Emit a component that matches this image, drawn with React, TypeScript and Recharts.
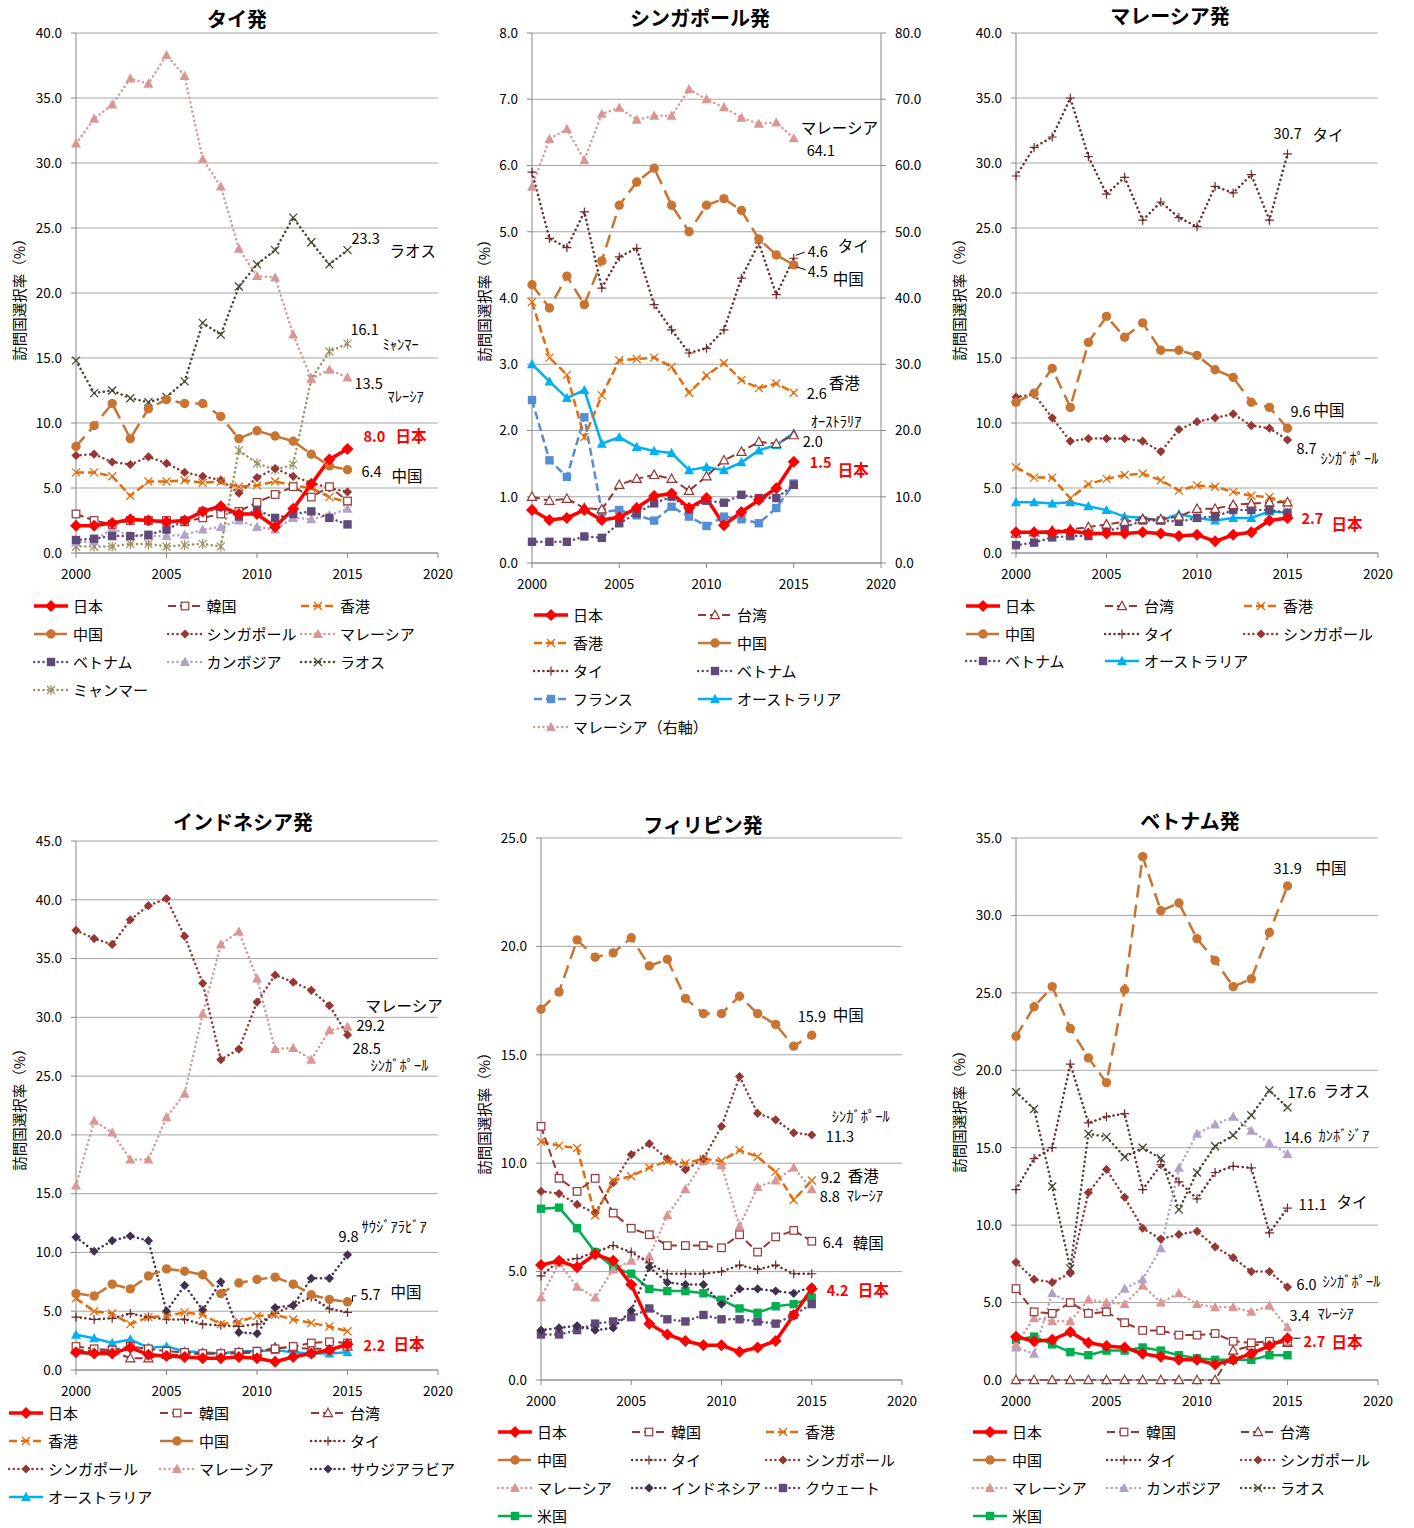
import React from 'react';
import { LineChart, Line, XAxis, YAxis, CartesianGrid } from 'recharts';

const FONT = '"Noto Sans CJK JP", "Noto Sans", sans-serif';
const YEARS = [2000, 2001, 2002, 2003, 2004, 2005, 2006, 2007, 2008, 2009, 2010, 2011, 2012, 2013, 2014, 2015];
const X_TICKS = [2000, 2005, 2010, 2015, 2020];

// タイ発
const thJapan = [2.1, 2.1, 2.3, 2.6, 2.5, 2.4, 2.5, 3.2, 3.6, 3.0, 3.0, 2.0, 3.4, 5.3, 7.2, 8.0];
const thKorea = [3.0, 2.5, 2.2, 2.5, 2.5, 2.5, 2.4, 2.7, 3.0, 3.2, 3.9, 4.5, 5.1, 4.3, 5.1, 4.0];
const thHongKong = [6.2, 6.2, 5.9, 4.4, 5.5, 5.5, 5.6, 5.4, 5.5, 5.1, 5.2, 5.5, 5.2, 5.0, 4.3, 3.9];
const thChina = [8.2, 9.8, 11.5, 8.8, 11.1, 11.8, 11.5, 11.5, 10.5, 8.8, 9.4, 9.0, 8.6, 7.6, 6.7, 6.4];
const thSingapore = [7.5, 7.6, 7.0, 6.8, 7.4, 6.9, 6.2, 5.9, 5.6, 4.6, 5.8, 6.5, 5.9, 5.4, 5.0, 4.7];
const thMalaysia = [31.5, 33.4, 34.5, 36.5, 36.1, 38.3, 36.7, 30.3, 28.2, 23.4, 21.3, 21.2, 16.8, 13.4, 14.1, 13.5];
const thVietnam = [1.0, 1.1, 1.3, 1.3, 1.4, 1.8, 2.5, 3.2, 3.4, 2.8, 3.3, 2.7, 3.0, 3.2, 2.7, 2.2];
const thCambodia = [0.8, 0.9, 1.9, 1.3, 1.3, 1.3, 1.4, 1.8, 2.0, 2.5, 2.0, 1.8, 2.7, 2.6, 2.9, 3.4];
const thLaos = [14.8, 12.3, 12.5, 11.9, 11.6, 12.0, 13.2, 17.7, 16.8, 20.5, 22.2, 23.3, 25.8, 23.9, 22.2, 23.3];
const thMyanmar = [0.5, 0.5, 0.5, 0.7, 0.7, 0.5, 0.6, 0.7, 0.5, 7.9, 6.9, 6.4, 6.8, 13.4, 15.5, 16.1];

// シンガポール発
const sgJapan = [0.8, 0.65, 0.68, 0.8, 0.65, 0.69, 0.83, 1.01, 1.05, 0.83, 0.98, 0.57, 0.77, 0.95, 1.13, 1.53];
const sgTaiwan = [1.0, 0.94, 0.97, 0.83, 0.81, 1.18, 1.27, 1.33, 1.27, 1.09, 1.31, 1.55, 1.68, 1.83, 1.8, 1.93];
const sgHongKong = [3.94, 3.1, 2.84, 1.9, 2.53, 3.06, 3.08, 3.1, 2.96, 2.57, 2.83, 3.02, 2.76, 2.64, 2.71, 2.57];
const sgChina = [4.2, 3.85, 4.33, 3.9, 4.56, 5.4, 5.75, 5.96, 5.4, 5.0, 5.4, 5.5, 5.32, 4.89, 4.65, 4.5];
const sgThailand = [5.9, 4.9, 4.76, 5.3, 4.15, 4.62, 4.75, 3.9, 3.52, 3.17, 3.24, 3.52, 4.3, 4.83, 4.05, 4.6];
const sgVietnam = [0.32, 0.32, 0.32, 0.4, 0.38, 0.6, 0.75, 0.9, 1.0, 0.81, 0.94, 0.91, 1.03, 0.98, 0.98, 1.18];
const sgFrance = [2.46, 1.55, 1.3, 2.2, 0.77, 0.8, 0.72, 0.64, 0.85, 0.7, 0.56, 0.7, 0.66, 0.6, 0.83, 1.2];
const sgAustralia = [3.0, 2.74, 2.49, 2.61, 1.8, 1.9, 1.75, 1.69, 1.66, 1.4, 1.45, 1.4, 1.52, 1.7, 1.78, 1.96];
const sgMalaysia = [56.8, 64.0, 65.5, 60.8, 67.8, 68.7, 66.9, 67.5, 67.5, 71.5, 70.0, 68.8, 67.2, 66.3, 66.5, 64.1];

// マレーシア発
const myJapan = [1.6, 1.6, 1.6, 1.7, 1.5, 1.5, 1.5, 1.6, 1.5, 1.3, 1.4, 0.9, 1.4, 1.6, 2.5, 2.7];
const myTaiwan = [1.5, 1.6, 1.7, 1.8, 2.0, 2.2, 2.4, 2.6, 2.6, 2.8, 3.4, 3.4, 3.7, 3.8, 3.9, 3.9];
const myHongKong = [6.6, 5.8, 5.8, 4.2, 5.3, 5.7, 6.0, 6.1, 5.6, 4.8, 5.2, 5.1, 4.7, 4.4, 4.3, 3.8];
const myChina = [11.6, 12.3, 14.2, 11.2, 16.2, 18.2, 16.6, 17.7, 15.6, 15.6, 15.2, 14.1, 13.5, 11.6, 11.2, 9.6];
const myThailand = [29.0, 31.2, 32.0, 35.0, 30.5, 27.6, 28.9, 25.6, 27.0, 25.8, 25.1, 28.2, 27.7, 29.1, 25.6, 30.7];
const mySingapore = [12.0, 12.2, 10.4, 8.6, 8.8, 8.8, 8.8, 8.6, 7.8, 9.5, 10.1, 10.4, 10.7, 9.8, 9.6, 8.7];
const myVietnam = [0.6, 0.8, 1.2, 1.3, 1.3, 1.7, 2.0, 2.5, 2.5, 2.4, 2.7, 2.8, 3.3, 3.3, 3.3, 3.1];
const myAustralia = [3.9, 3.9, 3.8, 3.9, 3.6, 3.3, 2.8, 2.7, 2.5, 3.0, 2.7, 2.5, 2.7, 2.7, 3.2, 3.1];

// インドネシア発
const idJapan = [1.5, 1.4, 1.4, 1.9, 1.3, 1.2, 1.1, 1.0, 1.0, 1.1, 1.0, 0.7, 1.1, 1.4, 1.7, 2.2];
const idKorea = [2.0, 1.8, 1.7, 2.0, 1.8, 1.6, 1.5, 1.4, 1.4, 1.5, 1.6, 1.8, 2.0, 2.3, 2.4, 2.3];
const idTaiwan = [1.7, 1.6, 1.6, 1.0, 1.0, 1.3, 1.3, 1.4, 1.4, 1.4, 1.5, 1.9, 1.9, 1.8, 1.8, 2.0];
const idHongKong = [6.1, 5.0, 4.8, 3.9, 4.5, 4.6, 4.9, 4.7, 3.9, 4.1, 4.6, 4.7, 4.3, 4.0, 3.7, 3.3];
const idChina = [6.5, 6.3, 7.3, 6.9, 8.0, 8.6, 8.4, 8.1, 6.5, 7.4, 7.7, 7.9, 7.3, 6.4, 6.0, 5.8];
const idThailand = [4.5, 4.3, 4.4, 4.8, 4.5, 4.3, 4.3, 3.9, 3.8, 3.7, 3.9, 4.8, 5.5, 6.2, 5.2, 4.9];
const idSingapore = [37.4, 36.7, 36.2, 38.3, 39.5, 40.1, 36.9, 32.9, 26.4, 27.3, 31.3, 33.6, 33.0, 32.3, 31.0, 28.5];
const idMalaysia = [15.7, 21.2, 20.2, 17.9, 17.9, 21.5, 23.5, 30.3, 36.2, 37.3, 33.3, 27.3, 27.4, 26.4, 28.9, 29.2];
const idSaudi = [11.3, 10.1, 11.0, 11.4, 11.0, 5.0, 7.2, 5.1, 7.5, 3.2, 3.1, 5.3, 5.5, 7.8, 7.8, 9.8];
const idAustralia = [3.0, 2.7, 2.3, 2.6, 1.9, 2.0, 1.6, 1.5, 1.4, 1.6, 1.6, 1.7, 1.5, 1.4, 1.4, 1.5];

// フィリピン発
const phJapan = [5.3, 5.5, 5.2, 5.8, 5.5, 4.4, 2.6, 2.1, 1.8, 1.6, 1.6, 1.3, 1.5, 1.8, 3.0, 4.2];
const phKorea = [11.7, 9.3, 8.7, 9.3, 7.7, 7.0, 6.7, 6.2, 6.2, 6.2, 6.1, 6.7, 5.9, 6.6, 6.9, 6.4];
const phHongKong = [11.0, 10.8, 10.7, 7.6, 9.2, 9.4, 9.8, 10.1, 10.0, 10.2, 10.1, 10.6, 10.3, 9.6, 8.3, 9.2];
const phChina = [17.1, 17.9, 20.3, 19.5, 19.7, 20.4, 19.1, 19.4, 17.6, 16.9, 16.9, 17.7, 16.9, 16.4, 15.4, 15.9];
const phThailand = [4.8, 5.5, 5.6, 5.9, 6.2, 5.9, 5.4, 4.9, 4.9, 4.9, 5.0, 5.3, 5.1, 5.3, 4.9, 4.9];
const phSingapore = [8.7, 8.6, 8.1, 7.7, 9.1, 10.4, 10.9, 10.2, 9.7, 10.2, 11.7, 14.0, 12.3, 12.0, 11.4, 11.3];
const phMalaysia = [3.8, 5.4, 4.3, 3.8, 5.1, 5.5, 5.7, 7.6, 8.8, 10.1, 9.9, 7.1, 8.9, 9.2, 9.8, 8.8];
const phIndonesia = [2.3, 2.4, 2.5, 2.3, 2.4, 3.2, 5.2, 4.5, 4.4, 4.4, 3.5, 4.2, 4.2, 4.1, 4.0, 4.3];
const phKuwait = [2.1, 2.1, 2.3, 2.6, 2.7, 2.9, 3.3, 2.8, 2.7, 3.0, 2.8, 2.8, 2.7, 2.6, 3.0, 3.5];
const phUS = [7.9, 7.95, 7.0, 5.9, 5.2, 4.9, 4.2, 4.1, 4.1, 4.0, 3.7, 3.3, 3.1, 3.4, 3.5, 3.8];

// ベトナム発
const vnJapan = [2.8, 2.5, 2.6, 3.1, 2.4, 2.2, 2.1, 1.7, 1.5, 1.3, 1.3, 1.0, 1.3, 1.7, 2.2, 2.7];
const vnKorea = [5.9, 4.4, 4.3, 5.0, 4.3, 4.4, 3.7, 3.2, 3.2, 2.9, 2.9, 3.0, 2.5, 2.4, 2.5, 2.5];
const vnTaiwan = [0, 0, 0, 0, 0, 0, 0, 0, 0, 0, 0, 0, 1.9, 2.2, 2.4, 2.4];
const vnChina = [22.2, 24.1, 25.4, 22.7, 20.8, 19.2, 25.2, 33.8, 30.3, 30.8, 28.5, 27.1, 25.4, 25.9, 28.9, 31.9];
const vnThailand = [12.3, 14.3, 15.0, 20.4, 16.6, 17.0, 17.2, 12.3, 13.9, 12.8, 11.7, 13.4, 13.8, 13.7, 9.5, 11.1];
const vnSingapore = [7.6, 6.5, 6.3, 6.9, 12.1, 13.6, 11.8, 9.8, 9.1, 9.4, 9.6, 8.6, 7.9, 7.0, 7.0, 6.0];
const vnMalaysia = [2.3, 4.0, 3.8, 3.8, 5.2, 5.0, 4.9, 6.1, 5.0, 5.6, 4.9, 4.7, 4.7, 4.4, 4.8, 3.4];
const vnCambodia = [2.1, 1.7, 5.6, 5.0, 4.4, 4.7, 5.9, 6.5, 8.5, 13.7, 15.9, 16.5, 17.0, 16.1, 15.3, 14.6];
const vnLaos = [18.6, 17.5, 12.5, 7.2, 15.9, 15.7, 14.4, 15.0, 14.3, 11.0, 13.4, 15.1, 15.8, 17.1, 18.7, 17.6];
const vnUS = [2.6, 2.8, 2.3, 1.8, 1.6, 1.9, 1.9, 2.1, 1.9, 1.6, 1.4, 1.3, 1.3, 1.3, 1.6, 1.6];

type Mark = 'diamondL' | 'diamond' | 'square' | 'squareO' | 'tri' | 'triO' | 'circle' | 'x' | 'plus' | 'star';
type Stroke = 'solid' | 'dash' | 'dot' | 'long';
interface Style { color: string; stroke: Stroke; mark: Mark; width: number }
interface Series extends Style { name: string; data: number[]; right?: boolean }
interface Note {
  name: string; value: string; label: string;
  vdx: number; vdy: number; ldx: number; ldy: number;
  red?: boolean; small?: boolean; leader?: number[];
}
interface Panel {
  title: string; titleX: number; titleY: number; labelX: number; labelY: number;
  box: { l: number; t: number; r: number; b: number };
  yMax: number; yStep: number; rightMax?: number;
  legend: { x: number; y: number; colW: number; rowH: number; cols: number };
  series: Series[]; notes: Note[];
}

const ST: Record<string, Style> = {
  jp: { color: '#FF0000', stroke: 'solid', mark: 'diamondL', width: 3.5 },
  kr: { color: '#953735', stroke: 'dash', mark: 'squareO', width: 2 },
  tw: { color: '#953735', stroke: 'dash', mark: 'triO', width: 2 },
  hk: { color: '#E46C0A', stroke: 'dash', mark: 'x', width: 2.5 },
  cn: { color: '#C87533', stroke: 'long', mark: 'circle', width: 2.5 },
  sg: { color: '#953735', stroke: 'dot', mark: 'diamond', width: 2.5 },
  my: { color: '#DA9694', stroke: 'dot', mark: 'tri', width: 2.5 },
  th: { color: '#6E2B2B', stroke: 'dot', mark: 'plus', width: 2.5 },
  vn: { color: '#604A7B', stroke: 'dot', mark: 'square', width: 2.5 },
  kh: { color: '#B3A2C7', stroke: 'dot', mark: 'tri', width: 2.5 },
  la: { color: '#4A4530', stroke: 'dot', mark: 'x', width: 2.5 },
  mm: { color: '#9C9060', stroke: 'dot', mark: 'star', width: 2.5 },
  fr: { color: '#558ED5', stroke: 'dash', mark: 'square', width: 2.5 },
  au: { color: '#00B0F0', stroke: 'solid', mark: 'tri', width: 2.5 },
  sa: { color: '#403151', stroke: 'dot', mark: 'diamond', width: 2.5 },
  kw: { color: '#604A7B', stroke: 'dot', mark: 'square', width: 2.5 },
  us: { color: '#00B050', stroke: 'solid', mark: 'square', width: 2.5 },
};

const DASH: Record<Stroke, string | undefined> = {
  solid: undefined,
  dash: '8 4',
  dot: '0.1 4.6',
  long: '13 7',
};

const PANELS: Panel[] = [
  {
    title: 'タイ発', titleX: 237, titleY: 27, labelX: 18, labelY: 296,
    box: { l: 76, t: 33, r: 438, b: 553 }, yMax: 40, yStep: 5,
    legend: { x: 33, y: 606, colW: 133.5, rowH: 28, cols: 3 },
    series: [
      { name: '日本', data: thJapan, ...ST.jp },
      { name: '韓国', data: thKorea, ...ST.kr },
      { name: '香港', data: thHongKong, ...ST.hk },
      { name: '中国', data: thChina, ...ST.cn },
      { name: 'シンガポール', data: thSingapore, ...ST.sg },
      { name: 'マレーシア', data: thMalaysia, ...ST.my },
      { name: 'ベトナム', data: thVietnam, ...ST.vn },
      { name: 'カンボジア', data: thCambodia, ...ST.kh },
      { name: 'ラオス', data: thLaos, ...ST.la },
      { name: 'ミャンマー', data: thMyanmar, ...ST.mm },
    ],
    notes: [
      { name: 'ラオス', value: '23.3', label: 'ラオス', vdx: 4, vdy: -6, ldx: 42, ldy: 7 },
      { name: 'ミャンマー', value: '16.1', label: 'ﾐｬﾝﾏｰ', vdx: 3, vdy: -9, ldx: 35, ldy: 6, small: true },
      { name: 'マレーシア', value: '13.5', label: 'ﾏﾚｰｼｱ', vdx: 7, vdy: 11, ldx: 40, ldy: 24, small: true },
      { name: '日本', value: '8.0', label: '日本', vdx: 16, vdy: -7, ldx: 48, ldy: -7, red: true },
      { name: '中国', value: '6.4', label: '中国', vdx: 14, vdy: 7, ldx: 44, ldy: 12 },
    ],
  },
  {
    title: 'シンガポール発', titleX: 700, titleY: 26, labelX: 483, labelY: 297,
    box: { l: 532, t: 33, r: 881, b: 563 }, yMax: 8, yStep: 1, rightMax: 80,
    legend: { x: 533, y: 615, colW: 164, rowH: 28, cols: 2 },
    series: [
      { name: '日本', data: sgJapan, ...ST.jp },
      { name: '台湾', data: sgTaiwan, ...ST.tw },
      { name: '香港', data: sgHongKong, ...ST.hk },
      { name: '中国', data: sgChina, ...ST.cn },
      { name: 'タイ', data: sgThailand, ...ST.th },
      { name: 'ベトナム', data: sgVietnam, ...ST.vn },
      { name: 'フランス', data: sgFrance, ...ST.fr },
      { name: 'オーストラリア', data: sgAustralia, ...ST.au },
      { name: 'マレーシア（右軸）', data: sgMalaysia, ...ST.my, right: true },
    ],
    notes: [
      { name: 'マレーシア（右軸）', value: '64.1', label: 'マレーシア', vdx: 13, vdy: 18, ldx: 7, ldy: -4 },
      { name: 'タイ', value: '4.6', label: 'タイ', vdx: 14, vdy: -1, ldx: 44, ldy: -6, leader: [2, -3, 11, -6] },
      { name: '中国', value: '4.5', label: '中国', vdx: 14, vdy: 12, ldx: 39, ldy: 20, leader: [3, 2, 12, 5] },
      { name: '香港', value: '2.6', label: '香港', vdx: 13, vdy: 6, ldx: 35, ldy: -4 },
      { name: 'オーストラリア', value: '2.0', label: 'ｵｰｽﾄﾗﾘｱ', vdx: 9, vdy: 14, ldx: 17, ldy: -6, small: true },
      { name: '日本', value: '1.5', label: '日本', vdx: 16, vdy: 6, ldx: 44, ldy: 14, red: true },
    ],
  },
  {
    title: 'マレーシア発', titleX: 1170, titleY: 24, labelX: 958, labelY: 296,
    box: { l: 1016, t: 33, r: 1378, b: 553 }, yMax: 40, yStep: 5,
    legend: { x: 965, y: 606, colW: 139, rowH: 27.5, cols: 3 },
    series: [
      { name: '日本', data: myJapan, ...ST.jp },
      { name: '台湾', data: myTaiwan, ...ST.tw },
      { name: '香港', data: myHongKong, ...ST.hk },
      { name: '中国', data: myChina, ...ST.cn },
      { name: 'タイ', data: myThailand, ...ST.th },
      { name: 'シンガポール', data: mySingapore, ...ST.sg },
      { name: 'ベトナム', data: myVietnam, ...ST.vn },
      { name: 'オーストラリア', data: myAustralia, ...ST.au },
    ],
    notes: [
      { name: 'タイ', value: '30.7', label: 'タイ', vdx: -14, vdy: -15, ldx: 25, ldy: -13 },
      { name: '中国', value: '9.6', label: '中国', vdx: 3, vdy: -11, ldx: 26, ldy: -12 },
      { name: 'シンガポール', value: '8.7', label: 'ｼﾝｶﾞﾎﾟｰﾙ', vdx: 9, vdy: 14, ldx: 33, ldy: 24, small: true },
      { name: '日本', value: '2.7', label: '日本', vdx: 14, vdy: 6, ldx: 44, ldy: 12, red: true },
    ],
  },
  {
    title: 'インドネシア発', titleX: 243, titleY: 830, labelX: 18, labelY: 1106,
    box: { l: 76, t: 841, r: 438, b: 1370 }, yMax: 45, yStep: 5,
    legend: { x: 8, y: 1413, colW: 151, rowH: 28, cols: 3 },
    series: [
      { name: '日本', data: idJapan, ...ST.jp },
      { name: '韓国', data: idKorea, ...ST.kr },
      { name: '台湾', data: idTaiwan, ...ST.tw },
      { name: '香港', data: idHongKong, ...ST.hk },
      { name: '中国', data: idChina, ...ST.cn },
      { name: 'タイ', data: idThailand, ...ST.th },
      { name: 'シンガポール', data: idSingapore, ...ST.sg },
      { name: 'マレーシア', data: idMalaysia, ...ST.my },
      { name: 'サウジアラビア', data: idSaudi, ...ST.sa },
      { name: 'オーストラリア', data: idAustralia, ...ST.au },
    ],
    notes: [
      { name: 'マレーシア', value: '29.2', label: 'マレーシア', vdx: 9, vdy: 4, ldx: 18, ldy: -15 },
      { name: 'シンガポール', value: '28.5', label: 'ｼﾝｶﾞﾎﾟｰﾙ', vdx: 5, vdy: 19, ldx: 23, ldy: 36, small: true },
      { name: 'サウジアラビア', value: '9.8', label: 'ｻｳｼﾞｱﾗﾋﾞｱ', vdx: -9, vdy: -13, ldx: 14, ldy: -23, small: true },
      { name: '中国', value: '5.7', label: '中国', vdx: 13, vdy: -2, ldx: 43, ldy: -4, leader: [5, 0, 5, -6, 9, -6] },
      { name: '日本', value: '2.2', label: '日本', vdx: 16, vdy: 7, ldx: 46, ldy: 6, red: true },
    ],
  },
  {
    title: 'フィリピン発', titleX: 703, titleY: 833, labelX: 483, labelY: 1110,
    box: { l: 541, t: 838, r: 902, b: 1380 }, yMax: 25, yStep: 5,
    legend: { x: 497, y: 1432, colW: 134, rowH: 28, cols: 3 },
    series: [
      { name: '日本', data: phJapan, ...ST.jp },
      { name: '韓国', data: phKorea, ...ST.kr },
      { name: '香港', data: phHongKong, ...ST.hk },
      { name: '中国', data: phChina, ...ST.cn },
      { name: 'タイ', data: phThailand, ...ST.th },
      { name: 'シンガポール', data: phSingapore, ...ST.sg },
      { name: 'マレーシア', data: phMalaysia, ...ST.my },
      { name: 'インドネシア', data: phIndonesia, ...ST.sa },
      { name: 'クウェート', data: phKuwait, ...ST.kw },
      { name: '米国', data: phUS, ...ST.us },
    ],
    notes: [
      { name: '中国', value: '15.9', label: '中国', vdx: -14, vdy: -13, ldx: 21, ldy: -14 },
      { name: 'シンガポール', value: '11.3', label: 'ｼﾝｶﾞﾎﾟｰﾙ', vdx: 14, vdy: 7, ldx: 20, ldy: -13, small: true },
      { name: '香港', value: '9.2', label: '香港', vdx: 9, vdy: 2, ldx: 36, ldy: 1 },
      { name: 'マレーシア', value: '8.8', label: 'ﾏﾚｰｼｱ', vdx: 8, vdy: 13, ldx: 35, ldy: 12, small: true },
      { name: '韓国', value: '6.4', label: '韓国', vdx: 11, vdy: 7, ldx: 41, ldy: 8 },
      { name: '日本', value: '4.2', label: '日本', vdx: 15, vdy: 7, ldx: 46, ldy: 7, red: true },
    ],
  },
  {
    title: 'ベトナム発', titleX: 1190, titleY: 829, labelX: 958, labelY: 1108,
    box: { l: 1016, t: 838, r: 1378, b: 1380 }, yMax: 35, yStep: 5,
    legend: { x: 972, y: 1432, colW: 134, rowH: 28, cols: 3 },
    series: [
      { name: '日本', data: vnJapan, ...ST.jp },
      { name: '韓国', data: vnKorea, ...ST.kr },
      { name: '台湾', data: vnTaiwan, ...ST.tw },
      { name: '中国', data: vnChina, ...ST.cn },
      { name: 'タイ', data: vnThailand, ...ST.th },
      { name: 'シンガポール', data: vnSingapore, ...ST.sg },
      { name: 'マレーシア', data: vnMalaysia, ...ST.my },
      { name: 'カンボジア', data: vnCambodia, ...ST.kh },
      { name: 'ラオス', data: vnLaos, ...ST.la },
      { name: '米国', data: vnUS, ...ST.us },
    ],
    notes: [
      { name: '中国', value: '31.9', label: '中国', vdx: -14, vdy: -12, ldx: 28, ldy: -12 },
      { name: 'ラオス', value: '17.6', label: 'ラオス', vdx: 0, vdy: -9, ldx: 36, ldy: -10 },
      { name: 'カンボジア', value: '14.6', label: 'ｶﾝﾎﾞｼﾞｱ', vdx: -4, vdy: -11, ldx: 31, ldy: -13, small: true },
      { name: 'タイ', value: '11.1', label: 'タイ', vdx: 11, vdy: 2, ldx: 49, ldy: 0 },
      { name: 'シンガポール', value: '6.0', label: 'ｼﾝｶﾞﾎﾟｰﾙ', vdx: 9, vdy: 3, ldx: 35, ldy: 0, small: true },
      { name: 'マレーシア', value: '3.4', label: 'ﾏﾚｰｼｱ', vdx: 2, vdy: -6, ldx: 30, ldy: -8, small: true },
      { name: '日本', value: '2.7', label: '日本', vdx: 16, vdy: 9, ldx: 44, ldy: 10, red: true, leader: [6, 0, 13, 0] },
    ],
  },
];

const Marker = ({ mark, x, y, color }: { mark: Mark; x: number; y: number; color: string }) => {
  switch (mark) {
    case 'diamondL':
      return <polygon points={`${x},${y - 6} ${x + 6},${y} ${x},${y + 6} ${x - 6},${y}`} fill={color} />;
    case 'diamond':
      return <polygon points={`${x},${y - 4.6} ${x + 4.6},${y} ${x},${y + 4.6} ${x - 4.6},${y}`} fill={color} />;
    case 'square':
      return <rect x={x - 4.2} y={y - 4.2} width={8.4} height={8.4} fill={color} />;
    case 'squareO':
      return <rect x={x - 3.8} y={y - 3.8} width={7.6} height={7.6} fill="#fff" stroke={color} strokeWidth={1.2} />;
    case 'tri':
      return <polygon points={`${x},${y - 5.2} ${x + 5},${y + 4} ${x - 5},${y + 4}`} fill={color} />;
    case 'triO':
      return <polygon points={`${x},${y - 4.8} ${x + 4.6},${y + 3.6} ${x - 4.6},${y + 3.6}`} fill="#fff" stroke={color} strokeWidth={1.2} />;
    case 'circle':
      return <circle cx={x} cy={y} r={4.7} fill={color} />;
    case 'x':
      return <path d={`M${x - 4} ${y - 4}L${x + 4} ${y + 4}M${x - 4} ${y + 4}L${x + 4} ${y - 4}`} stroke={color} strokeWidth={1.3} fill="none" />;
    case 'plus':
      return <path d={`M${x - 4.5} ${y}L${x + 4.5} ${y}M${x} ${y - 4.5}L${x} ${y + 4.5}`} stroke={color} strokeWidth={1.2} fill="none" />;
    case 'star':
      return <path d={`M${x - 4} ${y - 4}L${x + 4} ${y + 4}M${x - 4} ${y + 4}L${x + 4} ${y - 4}M${x} ${y - 5}L${x} ${y + 5}`} stroke={color} strokeWidth={1.2} fill="none" />;
    default:
      return null;
  }
};

const NoteText = ({ x, y, n }: { x: number; y: number; n: Note }) => {
  const color = n.red ? '#FF0000' : '#000';
  const weight = n.red ? 700 : 400;
  const pts = n.leader || [];
  const d = pts.length >= 4
    ? pts.reduce((acc, v, i) => acc + (i % 2 === 0 ? `${i === 0 ? 'M' : 'L'}${x + v} ` : `${y + v} `), '')
    : '';
  return (
    <g fontFamily={FONT}>
      {d && <path d={d} stroke="#000" strokeWidth={1} fill="none" />}
      <text x={x + n.vdx} y={y + n.vdy} fontSize={14.5} fill={color} fontWeight={weight}>{n.value}</text>
      <text x={x + n.ldx} y={y + n.ldy} fontSize={n.small ? 14.5 : 15.5} fill={color} fontWeight={weight}>{n.label}</text>
    </g>
  );
};

const LegendIcon = ({ s }: { s: Series }) => (
  <svg width={36} height={14} style={{ display: 'block' }}>
    <line x1={1} y1={7} x2={35} y2={7} stroke={s.color} strokeWidth={s.width}
      strokeDasharray={DASH[s.stroke]} strokeLinecap={s.stroke === 'dot' ? 'round' : 'butt'} />
    <Marker mark={s.mark} x={18} y={7} color={s.color} />
  </svg>
);

const ChartPanel = ({ p }: { p: Panel }) => {
  const rows = YEARS.map((year, i) => {
    const r: Record<string, number> = { year };
    p.series.forEach((s, j) => { r['s' + j] = s.data[i]; });
    return r;
  });
  const plotW = p.box.r - p.box.l;
  const plotH = p.box.b - p.box.t;
  const rightM = p.rightMax ? 10 : 35;
  const rightAxisW = p.rightMax ? 50 : 0;
  const width = plotW + 70 + rightM + rightAxisW;
  const height = plotH + 33 + 40;
  const yTicks: number[] = [];
  for (let v = 0; v <= p.yMax + 1e-9; v += p.yStep) yTicks.push(Math.round(v * 10) / 10);
  const rTicks: number[] = [];
  if (p.rightMax) for (let v = 0; v <= p.rightMax; v += 10) rTicks.push(v);
  const tick = { fill: '#000', fontSize: 13.5, fontFamily: FONT };
  const last = YEARS.length - 1;
  const order = p.series.map((s, j) => ({ s, j })).reverse();

  return (
    <div style={{ position: 'absolute', left: p.box.l - 70, top: p.box.t - 33 }}>
      <LineChart width={width} height={height} data={rows}
        margin={{ top: 33, left: 20, right: rightM, bottom: 10 }}>
        <CartesianGrid vertical={false} stroke="#A6A6A6" strokeWidth={1} />
        <XAxis dataKey="year" type="number" domain={[2000, 2020]} ticks={X_TICKS}
          height={30} tickSize={5} tickMargin={11} stroke="#868686" tick={tick} />
        <YAxis width={50} domain={[0, p.yMax]} ticks={yTicks} tickFormatter={(v: number) => v.toFixed(1)}
          stroke="#868686" tickSize={5} tickMargin={9} tick={tick} />
        {p.rightMax && (
          <YAxis yAxisId="r" orientation="right" width={50} domain={[0, p.rightMax]} ticks={rTicks}
            tickFormatter={(v: number) => v.toFixed(1)} stroke="#868686" tickSize={5} tickMargin={9} tick={tick} />
        )}
        {order.map(({ s, j }) => {
          const note = p.notes.find((n) => n.name === s.name);
          return (
            <Line key={s.name} dataKey={'s' + j} yAxisId={s.right ? 'r' : 0} type="linear"
              stroke={s.color} strokeWidth={s.width} strokeDasharray={DASH[s.stroke]}
              strokeLinecap={s.stroke === 'dot' ? 'round' : 'butt'} isAnimationActive={false}
              activeDot={false}
              dot={(d: any) => {
                if (d.cx == null || d.cy == null) return <g key={`${s.name}-${d.index}`} />;
                return (
                  <g key={`${s.name}-${d.index}`}>
                    <Marker mark={s.mark} x={d.cx} y={d.cy} color={s.color} />
                    {d.index === last && note && <NoteText x={d.cx} y={d.cy} n={note} />}
                  </g>
                );
              }} />
          );
        })}
      </LineChart>
    </div>
  );
};

const LegendBlock = ({ p }: { p: Panel }) => (
  <>
    {p.series.map((s, i) => {
      const col = i % p.legend.cols;
      const row = Math.floor(i / p.legend.cols);
      return (
        <div key={s.name} style={{
          position: 'absolute', left: p.legend.x + col * p.legend.colW, top: p.legend.y + row * p.legend.rowH - 10,
          height: 20, display: 'flex', alignItems: 'center', whiteSpace: 'nowrap',
        }}>
          <LegendIcon s={s} />
          <span style={{ marginLeft: 4, fontSize: 15, fontFamily: FONT, color: '#000', lineHeight: '20px' }}>{s.name}</span>
        </div>
      );
    })}
  </>
);

export default function App() {
  return (
    <div style={{ position: 'absolute', left: 0, top: 0, width: 1414, height: 1528, background: '#fff', overflow: 'hidden' }}>
      {PANELS.map((p) => (
        <React.Fragment key={p.title}>
          <ChartPanel p={p} />
          <LegendBlock p={p} />
        </React.Fragment>
      ))}
      <svg width={1414} height={1528} style={{ position: 'absolute', left: 0, top: 0, pointerEvents: 'none' }}>
        {PANELS.map((p) => (
          <g key={p.title} fontFamily={FONT}>
            <text x={p.titleX} y={p.titleY} textAnchor="middle" fontSize={20} fontWeight={700} fill="#000">{p.title}</text>
            <text x={p.labelX} y={p.labelY} textAnchor="middle" dominantBaseline="central" fontSize={14.5} fill="#000"
              transform={`rotate(-90 ${p.labelX} ${p.labelY})`}>訪問国選択率（%）</text>
          </g>
        ))}
      </svg>
    </div>
  );
}
